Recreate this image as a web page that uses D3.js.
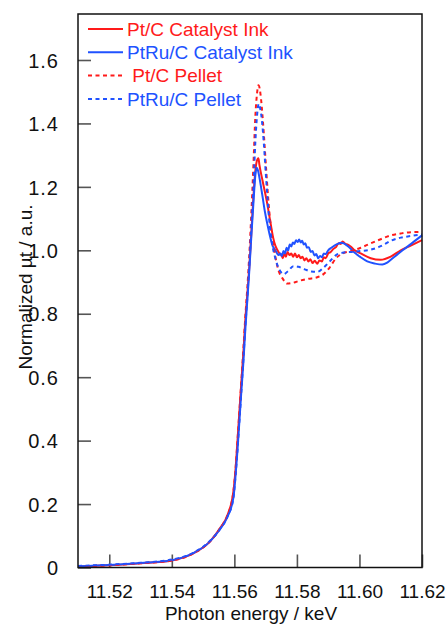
<!DOCTYPE html>
<html>
<head>
<meta charset="utf-8">
<script src="https://cdn.jsdelivr.net/npm/d3@7"></script>
<style>
  body { margin: 0; background: #fff; }
  text { font-family: "Liberation Sans", Arial, sans-serif; }
</style>
</head>
<body>
<div id="chart"></div>
<script>
// [energy keV, normalized mu t]
const ptInk = [[11.5100,0.003],[11.5200,0.007],[11.5300,0.013],[11.5400,0.022],[11.5470,0.045],[11.5520,0.08],[11.5555,0.125],[11.5578,0.165],[11.5597,0.24],[11.5603,0.30],[11.5610,0.40],[11.5616,0.49],[11.5622,0.58],[11.5629,0.68],[11.5635,0.78],[11.5642,0.87],[11.5648,0.95],[11.5654,1.05],[11.5661,1.17],[11.5667,1.25],[11.5673,1.285],[11.5677,1.29],[11.5680,1.27],[11.5690,1.22],[11.5705,1.148],[11.5715,1.09],[11.5724,1.04],[11.5731,1.015],[11.5738,1.0],[11.5744,0.99],[11.5750,0.985],[11.5755,0.975],[11.5760,0.99],[11.5765,0.98],[11.5770,0.995],[11.5776,0.985],[11.5782,0.99],[11.5788,0.98],[11.5794,0.99],[11.5800,0.978],[11.5806,0.985],[11.5812,0.975],[11.5818,0.98],[11.5824,0.968],[11.5830,0.975],[11.5837,0.965],[11.5843,0.972],[11.5850,0.96],[11.5857,0.967],[11.5865,0.958],[11.5872,0.968],[11.5880,0.965],[11.5886,0.978],[11.5892,0.975],[11.5900,0.99],[11.5908,0.995],[11.5917,1.005],[11.5925,1.01],[11.5933,1.022],[11.5940,1.02],[11.5946,1.028],[11.5955,1.02],[11.5963,1.018],[11.5972,1.012],[11.5985,1.0],[11.6004,0.99],[11.6036,0.975],[11.6068,0.97],[11.6100,0.98],[11.6132,1.0],[11.6164,1.015],[11.6200,1.032]];

const ptRuInk = [[11.5100,0.004],[11.5200,0.008],[11.5300,0.014],[11.5400,0.023],[11.5470,0.046],[11.5520,0.08],[11.5555,0.122],[11.5578,0.16],[11.5597,0.22],[11.5603,0.28],[11.5610,0.37],[11.5616,0.46],[11.5622,0.55],[11.5629,0.65],[11.5635,0.75],[11.5642,0.85],[11.5648,0.94],[11.5654,1.04],[11.5661,1.15],[11.5667,1.235],[11.5671,1.26],[11.5676,1.25],[11.5680,1.23],[11.5690,1.17],[11.5698,1.12],[11.5705,1.085],[11.5715,1.04],[11.5722,1.015],[11.5728,1.005],[11.5734,0.995],[11.5741,0.985],[11.5747,0.99],[11.5752,0.982],[11.5757,0.998],[11.5762,0.99],[11.5767,1.008],[11.5772,1.0],[11.5777,1.018],[11.5782,1.012],[11.5787,1.025],[11.5792,1.02],[11.5797,1.032],[11.5802,1.026],[11.5807,1.034],[11.5812,1.025],[11.5817,1.03],[11.5822,1.018],[11.5827,1.022],[11.5832,1.008],[11.5838,1.01],[11.5844,0.995],[11.5850,0.998],[11.5856,0.984],[11.5862,0.988],[11.5868,0.975],[11.5874,0.982],[11.5880,0.978],[11.5886,0.99],[11.5892,0.988],[11.5900,1.0],[11.5910,1.008],[11.5920,1.015],[11.5930,1.02],[11.5940,1.024],[11.5950,1.022],[11.5960,1.015],[11.5972,1.005],[11.5985,0.992],[11.6004,0.978],[11.6025,0.965],[11.6050,0.958],[11.6073,0.955],[11.6090,0.962],[11.6110,0.978],[11.6138,1.0],[11.6171,1.025],[11.6200,1.047]];

const ptPellet = [[11.5100,0.003],[11.5200,0.007],[11.5300,0.013],[11.5400,0.022],[11.5470,0.045],[11.5520,0.08],[11.5555,0.125],[11.5578,0.165],[11.5597,0.24],[11.5603,0.30],[11.5610,0.40],[11.5616,0.49],[11.5622,0.58],[11.5629,0.69],[11.5635,0.79],[11.5642,0.89],[11.5648,0.99],[11.5654,1.11],[11.5661,1.27],[11.5667,1.42],[11.5672,1.49],[11.5677,1.52],[11.5681,1.51],[11.5686,1.47],[11.5694,1.37],[11.5702,1.25],[11.5711,1.13],[11.5721,1.04],[11.5731,0.98],[11.5741,0.937],[11.5755,0.91],[11.5769,0.895],[11.5785,0.897],[11.5812,0.905],[11.5837,0.91],[11.5865,0.915],[11.5885,0.925],[11.5904,0.945],[11.5925,0.975],[11.5946,0.99],[11.5975,0.998],[11.6004,1.008],[11.6036,1.022],[11.6068,1.035],[11.6100,1.047],[11.6132,1.053],[11.6164,1.057],[11.6200,1.058]];

const ptRuPellet = [[11.5100,0.005],[11.5200,0.009],[11.5300,0.015],[11.5400,0.025],[11.5470,0.047],[11.5520,0.082],[11.5555,0.122],[11.5578,0.16],[11.5597,0.22],[11.5603,0.28],[11.5610,0.37],[11.5616,0.46],[11.5622,0.55],[11.5629,0.66],[11.5635,0.76],[11.5642,0.86],[11.5648,0.96],[11.5654,1.07],[11.5661,1.2],[11.5667,1.34],[11.5673,1.43],[11.5678,1.462],[11.5682,1.45],[11.5688,1.41],[11.5694,1.34],[11.5702,1.22],[11.5711,1.1],[11.5721,1.02],[11.5731,0.975],[11.5741,0.945],[11.5750,0.93],[11.5758,0.925],[11.5772,0.935],[11.5789,0.95],[11.5805,0.948],[11.5825,0.94],[11.5847,0.933],[11.5865,0.932],[11.5885,0.945],[11.5905,0.965],[11.5925,0.985],[11.5950,0.993],[11.5975,0.995],[11.6004,0.998],[11.6036,1.002],[11.6068,1.013],[11.6100,1.03],[11.6132,1.04],[11.6164,1.045],[11.6200,1.05]];

const xTicks = [11.52, 11.54, 11.56, 11.58, 11.60, 11.62];
const yTicks = [0, 0.2, 0.4, 0.6, 0.8, 1.0, 1.2, 1.4, 1.6];
const seriesNames = ["Pt/C Catalyst Ink", "PtRu/C Catalyst Ink", " Pt/C Pellet", "PtRu/C Pellet"];

const RED = "#ff1a1a", BLUE = "#2052ff";
const series = [
    {name: seriesNames[0], data: ptInk, color: RED, dash: null},
    {name: seriesNames[1], data: ptRuInk, color: BLUE, dash: null},
    {name: seriesNames[2], data: ptPellet, color: RED, dash: "4,3.5"},
    {name: seriesNames[3], data: ptRuPellet, color: BLUE, dash: "4,3.5"}
];

const W = 447, H = 628;
const mLeft = 78, mRight = 422, mTop = 14, mBottom = 567.5;

const svg = d3.select("#chart").append("svg").attr("width", W).attr("height", H);

const x = d3.scaleLinear().domain([11.51, 11.62]).range([mLeft, mRight]);
const y = d3.scaleLinear().domain([0, 1.745]).range([mBottom, mTop]);

svg.append("defs").append("clipPath").attr("id", "plotclip")
    .append("rect").attr("x", mLeft).attr("y", mTop - 2)
    .attr("width", mRight - mLeft + 2).attr("height", mBottom - mTop + 4);

// ticks inside the frame
const xAxis = d3.axisBottom(x).tickValues(xTicks).tickSize(-13).tickPadding(17)
    .tickFormat(d3.format(".2f"));
const yAxis = d3.axisLeft(y).tickValues(yTicks).tickSize(-13).tickPadding(19)
    .tickFormat(d => d === 0 ? "0" : d3.format(".1f")(d));

const gx = svg.append("g").attr("transform", "translate(0," + mBottom + ")").call(xAxis);
const gy = svg.append("g").attr("transform", "translate(" + mLeft + ",0)").call(yAxis);

[gx, gy].forEach(g => {
    g.select(".domain").remove();
    g.selectAll(".tick line").attr("stroke", "#555").attr("stroke-width", 1.6);
    g.selectAll(".tick text").attr("fill", "#111");
});
gy.selectAll(".tick text").attr("dy", "0.36em").style("font-size", "20px")
    .style("letter-spacing", "1px");
gx.selectAll(".tick text").attr("dy", "0.72em").style("font-size", "19px");

const line = d3.line().x(d => x(d[0])).y(d => y(d[1])).curve(d3.curveMonotoneX);

svg.append("g").attr("clip-path", "url(#plotclip)")
    .selectAll("path").data(series).enter().append("path")
    .attr("d", d => line(d.data))
    .attr("fill", "none")
    .attr("stroke", d => d.color)
    .attr("stroke-width", 2)
    .attr("stroke-dasharray", d => d.dash);

// frame
svg.append("rect").attr("x", mLeft).attr("y", mTop)
    .attr("width", mRight - mLeft).attr("height", mBottom - mTop)
    .attr("fill", "none").attr("stroke", "#111").attr("stroke-width", 1.5);

// legend
const leg = svg.append("g").selectAll("g").data(series).enter().append("g")
    .attr("transform", (d, i) => "translate(88," + (29 + i * 23.3) + ")");
leg.append("line").attr("x1", 0).attr("x2", 35).attr("y1", 0).attr("y2", 0)
    .attr("stroke", d => d.color).attr("stroke-width", 2)
    .attr("stroke-dasharray", d => d.dash);
leg.append("text").attr("x", 39).attr("y", 6.8)
    .style("white-space", "pre").style("font-size", "19px")
    .attr("fill", d => d.color).text(d => d.name);

// axis titles
svg.append("text").attr("x", 251).attr("y", 620)
    .attr("text-anchor", "middle").attr("fill", "#111").style("font-size", "19px")
    .text("Photon energy / keV");
svg.append("text")
    .attr("transform", "translate(32," + 287 + ") rotate(-90)")
    .attr("text-anchor", "middle").attr("fill", "#111").style("font-size", "19px")
    .text("Normalized \u00b5t / a.u.");
</script>
</body>
</html>
